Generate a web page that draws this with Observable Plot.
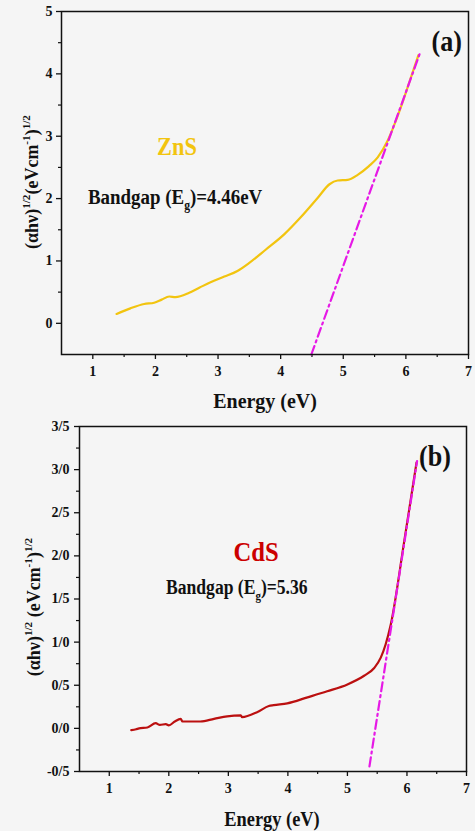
<!DOCTYPE html>
<html><head><meta charset="utf-8">
<script src="https://cdn.jsdelivr.net/npm/d3@7"></script>
<script src="https://cdn.jsdelivr.net/npm/@observablehq/plot@0.6"></script>
<style>
html,body{margin:0;padding:0;background:#f5f5f5;}
#wrap{position:relative;width:475px;height:831px;overflow:hidden;background:#f5f5f5;}
#wrap svg{position:absolute;left:0;}
</style></head><body><div id="wrap"></div>
<script>
// ---- data ----
const energyZnS = [1.38, 1.6, 1.82, 1.98, 2.1, 2.22, 2.32, 2.54, 2.7, 2.88, 3.1, 3.31, 3.5, 3.76, 4.06, 4.32, 4.59, 4.78, 4.91, 5.07, 5.23, 5.41, 5.55, 5.71, 5.90, 6.05, 6.2];
const valueZnS  = [0.15, 0.24, 0.31, 0.33, 0.38, 0.43, 0.42, 0.49, 0.57, 0.66, 0.75, 0.84, 0.97, 1.18, 1.43, 1.70, 2.01, 2.23, 2.29, 2.30, 2.38, 2.52, 2.66, 2.93, 3.41, 3.85, 4.3];
const fitZnSEnergy = [4.49, 6.22];
const fitZnSValue  = [-0.5, 4.32];

const energyCdS = [1.37, 1.45, 1.5, 1.64, 1.78, 1.85, 1.95, 2.0, 2.1, 2.2, 2.23, 2.4, 2.53, 2.76, 2.98, 3.21, 3.23, 3.49, 3.68, 3.76, 3.99, 4.33, 4.66, 5.0, 5.28, 5.45, 5.56, 5.64, 5.73, 5.95, 6.16];
const valueCdS  = [-0.02, -0.01, 0.0, 0.01, 0.06, 0.04, 0.05, 0.035, 0.08, 0.11, 0.08, 0.08, 0.08, 0.11, 0.14, 0.15, 0.13, 0.19, 0.26, 0.27, 0.29, 0.36, 0.43, 0.51, 0.61, 0.70, 0.82, 0.97, 1.21, 2.15, 3.08];
const fitCdSEnergy = [5.37, 6.17];
const fitCdSValue  = [-0.44, 3.1];

const xTicks = [1, 2, 3, 4, 5, 6, 7];
const xMinor = [1.5, 2.5, 3.5, 4.5, 5.5, 6.5];
const yTicksA = [0, 1, 2, 3, 4, 5];
const yMinorA = [0.5, 1.5, 2.5, 3.5, 4.5];
const yTicksB = [-0.5, 0, 0.5, 1, 1.5, 2, 2.5, 3, 3.5];
const yMinorB = [-0.25, 0.25, 0.75, 1.25, 1.75, 2.25, 2.75, 3.25];

const serif = "'Liberation Serif','Times New Roman',serif";
const zip = (a, b) => a.map((v, i) => ({x: v, y: b[i]}));

function panel(o) {
  return Plot.plot({
    width: 475, height: o.h,
    marginTop: o.mt, marginRight: o.mr, marginBottom: o.mb, marginLeft: o.ml,
    style: {fontFamily: serif, fontWeight: "bold", fontSize: "14px", background: "transparent", color: "#111", overflow: "visible"},
    x: {domain: [0.5, 7], label: null},
    y: {domain: o.yDomain, label: null},
    marks: [
      Plot.axisX(xTicks, {tickSize: 5, tickPadding: 7, label: null, strokeWidth: 1.3, fontSize: 14, fontWeight: "bold", tickFormat: d => String(d)}),
      Plot.axisX(xMinor, {tickSize: 3, label: null, strokeWidth: 1.2, tickFormat: () => ""}),
      Plot.axisY(o.yTicks, {tickSize: 5, tickPadding: o.yPad, label: null, strokeWidth: 1.3, fontSize: 14, fontWeight: "bold", tickFormat: o.yFormat}),
      Plot.axisY(o.yMinor, {tickSize: 3, label: null, strokeWidth: 1.2, tickFormat: () => ""}),
      Plot.line(zip(o.xs, o.ys), {x: "x", y: "y", stroke: o.color, strokeWidth: 2.2, curve: "monotone-x"}),
      Plot.line(zip(o.fx, o.fy), {x: "x", y: "y", stroke: "#e619e6", strokeWidth: 2.2, strokeDasharray: "9,4,2,4"}),
      Plot.frame({stroke: "#111", strokeWidth: 1.5})
    ]
  });
}

function rich(svg, parts, a) {
  const sx = a.sx || 1;
  const t = svg.append("text")
    .attr("font-family", serif).attr("font-weight", "bold")
    .attr("font-size", a.size).attr("fill", a.fill || "#111")
    .attr("text-anchor", a.anchor || "start")
    .attr("transform", `translate(${a.x},${a.y})` + (sx !== 1 ? ` scale(${sx},1)` : "") + (a.rot ? " rotate(-90)" : ""));
  let shift = 0;
  for (const [s, kind] of parts) {
    const sp = t.append("tspan").text(s);
    const target = kind === "sup" ? -a.size * 0.42 : kind === "sub" ? a.size * 0.28 : 0;
    if (target !== shift) { sp.attr("dy", target - shift); shift = target; }
    if (kind) sp.attr("font-size", a.size * 0.62);
  }
  return t;
}

const wrap = document.getElementById("wrap");

// ---- panel (a) ----
const svgA = panel({h: 418, mt: 11, mr: 7, mb: 64, ml: 61, yDomain: [-0.5, 5],
  yTicks: yTicksA, yMinor: yMinorA, yPad: 4, yFormat: d => String(d),
  xs: energyZnS, ys: valueZnS, color: "#f2c40f", fx: fitZnSEnergy, fy: fitZnSValue});
svgA.style.top = "0px";
wrap.appendChild(svgA);
const A = d3.select(svgA);
rich(A, [["ZnS"]], {x: 177, y: 155, size: 26, sx: 0.86, fill: "#f2c40f", anchor: "middle"});
rich(A, [["Bandgap (E"], ["g", "sub"], [")=4.46eV"]], {x: 88, y: 204, size: 22, sx: 0.86});
rich(A, [["(a)"]], {x: 462, y: 51, size: 29, sx: 0.9, anchor: "end"});
rich(A, [["Energy (eV)"]], {x: 265, y: 408, size: 21, sx: 0.95, anchor: "middle"});
rich(A, [["(αhν)"], ["1/2", "sup"], ["(eVcm"], ["-1", "sup"], [")"], ["1/2", "sup"]], {x: 38, y: 182, size: 18, anchor: "middle", rot: true});

// ---- panel (b) ----
const topB = 418;
const svgB = panel({h: 413, mt: 8, mr: 9, mb: 60, ml: 79, yDomain: [-0.5, 3.5],
  yTicks: yTicksB, yMinor: yMinorB, yPad: 5, yFormat: d => d.toFixed(1).replace(".", "/"),
  xs: energyCdS, ys: valueCdS, color: "#bb1010", fx: fitCdSEnergy, fy: fitCdSValue});
svgB.style.top = topB + "px";
wrap.appendChild(svgB);
const B = d3.select(svgB);
rich(B, [["CdS"]], {x: 256, y: 561 - topB, size: 28, sx: 0.88, fill: "#cc0000", anchor: "middle"});
rich(B, [["Bandgap (E"], ["g", "sub"], [")=5.36"]], {x: 166, y: 594 - topB, size: 20, sx: 0.88});
rich(B, [["(b)"]], {x: 451, y: 466 - topB, size: 29, sx: 0.9, anchor: "end"});
rich(B, [["Energy (eV)"]], {x: 272, y: 826 - topB, size: 20, sx: 0.92, anchor: "middle"});
rich(B, [["(αhν)"], ["1/2", "sup"], [" (eVcm"], ["-1", "sup"], [")"], ["1/2", "sup"]], {x: 40, y: 607 - topB, size: 18, anchor: "middle", rot: true});
</script></body></html>
